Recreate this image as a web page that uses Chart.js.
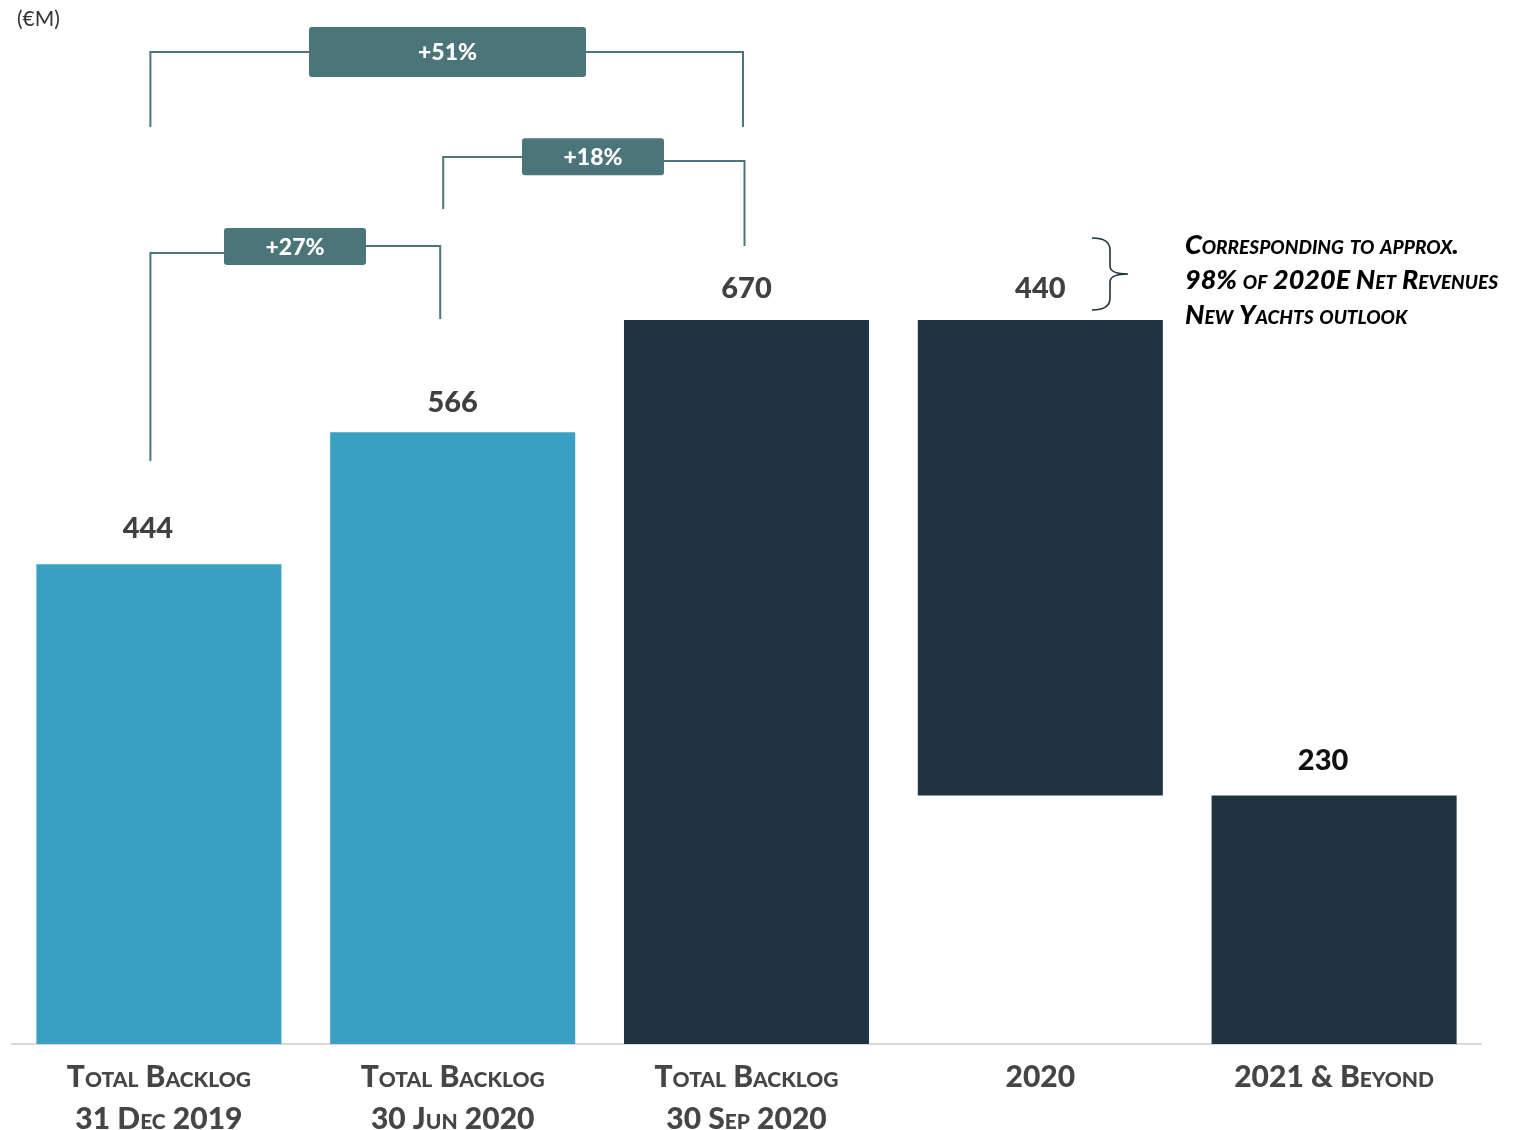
<!DOCTYPE html>
<html>
<head>
<meta charset="utf-8">
<script src="https://cdn.jsdelivr.net/npm/chart.js@4.4.1/dist/chart.umd.min.js"></script>
<style>
  html, body { margin: 0; padding: 0; background: #ffffff; }
  #wrap { position: relative; width: 1533px; height: 1130px; }
</style>
</head>
<body>
<div id="wrap"><canvas id="c"></canvas></div>
<script>
// ---- data ----
const categories = [
  ["Total Backlog", "31 Dec 2019"],
  ["Total Backlog", "30 Jun 2020"],
  ["Total Backlog", "30 Sep 2020"],
  ["2020"],
  ["2021 & Beyond"]
];
const barValues = [444, 566, 670, 440, 230];
const barBases  = [0, 0, 0, 230, 0];
const unitLabel = "(€M)";
const noteLines = ["Corresponding to approx.", "98% of 2020E Net Revenues", "New Yachts outlook"];
// growth comparisons: [fromIndex, toIndex]
const growthPairs = [[0, 1], [1, 2], [0, 2]];

// ---- styles ----
const LIGHT = "#399FC3";
const DARK = "#1F3340";
const BOX = "#4C7579";
const FONT = "Lato, 'Open Sans', sans-serif";
const barColors = [LIGHT, LIGHT, DARK, DARK, DARK];
const valueColors = ["#404040", "#404040", "#404040", "#404040", "#111111"];
const valueDx = [-11, 0, 0, 0, -11];
const valueDy = [-36, -30, -31, -31, -35];

function pct(a, b) { return "+" + Math.round((barValues[b] / barValues[a] - 1) * 100) + "%"; }

// bracket geometry (offsets from category centres in px, heights in data units)
const brackets = [
  { pair: growthPairs[0], lx: -8.5, rx: -12.5, lBottom: 539.5, rBottom: 670.9, lY: 732, rY: 738.5, boxC: 295, boxW: 142, boxH: 37, boxY: 738 },
  { pair: growthPairs[1], lx: -9.5, rx: -2, lBottom: 772.7, rBottom: 738.5, lY: 820.8, rY: 817.1, boxC: 593, boxW: 142, boxH: 37, boxY: 821 },
  { pair: growthPairs[2], lx: -8.5, rx: -3.5, lBottom: 848.6, rBottom: 848.6, lY: 918, rY: 918, boxC: 447.5, boxW: 277, boxH: 50, boxY: 918 }
];

function roundRect(ctx, x, y, w, h, r) {
  ctx.beginPath();
  ctx.moveTo(x + r, y);
  ctx.lineTo(x + w - r, y);
  ctx.quadraticCurveTo(x + w, y, x + w, y + r);
  ctx.lineTo(x + w, y + h - r);
  ctx.quadraticCurveTo(x + w, y + h, x + w - r, y + h);
  ctx.lineTo(x + r, y + h);
  ctx.quadraticCurveTo(x, y + h, x, y + h - r);
  ctx.lineTo(x, y + r);
  ctx.quadraticCurveTo(x, y, x + r, y);
  ctx.closePath();
}

const annotations = {
  id: "annotations",
  afterDraw(chart) {
    const ctx = chart.ctx;
    const xs = chart.scales.x, ys = chart.scales.y;
    const meta = chart.getDatasetMeta(0);
    ctx.save();

    // value labels
    ctx.font = "900 29px " + FONT;
    ctx.textAlign = "center";
    ctx.textBaseline = "middle";
    meta.data.forEach((bar, i) => {
      const top = ys.getPixelForValue(barBases[i] + barValues[i]);
      ctx.fillStyle = valueColors[i];
      ctx.fillText(String(barValues[i]), bar.x + valueDx[i], top + valueDy[i]);
    });

    // brackets
    ctx.strokeStyle = BOX;
    ctx.lineWidth = 2;
    brackets.forEach(b => {
      const lx = xs.getPixelForValue(b.pair[0]) + b.lx;
      const rx = xs.getPixelForValue(b.pair[1]) + b.rx;
      const lY = ys.getPixelForValue(b.lY), rY = ys.getPixelForValue(b.rY);
      const boxY = ys.getPixelForValue(b.boxY);
      const bx0 = b.boxC - b.boxW / 2, bx1 = b.boxC + b.boxW / 2;
      ctx.beginPath();
      ctx.moveTo(lx, ys.getPixelForValue(b.lBottom));
      ctx.lineTo(lx, lY);
      ctx.lineTo(bx0, lY);
      ctx.moveTo(bx1, rY);
      ctx.lineTo(rx, rY);
      ctx.lineTo(rx, ys.getPixelForValue(b.rBottom));
      ctx.stroke();
      ctx.fillStyle = BOX;
      roundRect(ctx, bx0, boxY - b.boxH / 2, b.boxW, b.boxH, 3);
      ctx.fill();
      ctx.fillStyle = "#ffffff";
      ctx.font = "900 23px " + FONT;
      ctx.fillText(pct(b.pair[0], b.pair[1]), b.boxC, boxY + 1);
    });

    // brace next to 2020 value
    const bTop = ys.getPixelForValue(745.9), bBot = ys.getPixelForValue(679.3);
    const mid = (bTop + bBot) / 2;
    const x0 = 1092, x1 = 1110, x2 = 1128;
    ctx.strokeStyle = "#1F3340";
    ctx.lineWidth = 1.6;
    ctx.beginPath();
    ctx.moveTo(x0, bTop);
    ctx.quadraticCurveTo(x1, bTop, x1, bTop + 12);
    ctx.lineTo(x1, mid - 8);
    ctx.quadraticCurveTo(x1, mid, x2, mid);
    ctx.quadraticCurveTo(x1, mid, x1, mid + 8);
    ctx.lineTo(x1, bBot - 12);
    ctx.quadraticCurveTo(x1, bBot, x0, bBot);
    ctx.stroke();

    // note text
    ctx.fillStyle = "#000000";
    ctx.textAlign = "left";
    ctx.font = "italic small-caps 900 27px " + FONT;
    noteLines.forEach((t, i) => ctx.fillText(t, 1185, 245 + i * 35));

    // unit label
    ctx.fillStyle = "#333333";
    ctx.font = "21px " + FONT;
    ctx.fillText(unitLabel, 17, 19);

    ctx.restore();
  }
};

new Chart(document.getElementById("c"), {
  type: "bar",
  data: {
    labels: categories,
    datasets: [{
      data: barValues.map((v, i) => [barBases[i], barBases[i] + v]),
      backgroundColor: barColors,
      borderWidth: 0,
      barPercentage: 0.834,
      categoryPercentage: 1.0
    }]
  },
  options: {
    responsive: true,
    maintainAspectRatio: false,
    animation: false,
    layout: { padding: { left: 12, right: 52, top: 0, bottom: 0 } },
    plugins: { legend: { display: false }, tooltip: { enabled: false } },
    scales: {
      x: {
        grid: { display: false },
        border: { display: true, color: "#D9D9D9", width: 2 },
        ticks: {
          color: "#454545",
          font: { family: FONT, size: 30, weight: "small-caps 900", lineHeight: 1.38 },
          padding: 5,
          maxRotation: 0,
          autoSkip: false
        },
        afterFit(scale) { scale.height = 86; }
      },
      y: { display: false, min: 0, max: 966.1 }
    }
  },
  plugins: [annotations]
});
</script>
</body>
</html>
